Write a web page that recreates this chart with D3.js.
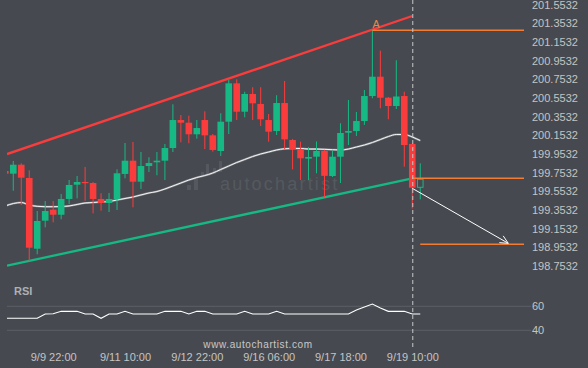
<!DOCTYPE html>
<html><head><meta charset="utf-8">
<script src="https://cdn.jsdelivr.net/npm/d3@7"></script>
<style>html,body{margin:0;padding:0;background:#464a50;overflow:hidden}</style>
</head><body><svg id="c" width="588" height="368"></svg>
<script>
// ---- data (H4 candles, index 0..52) ----
const opens  = [199.771,199.742,199.838,199.696,198.938,199.238,199.356,199.302,199.471,199.624,199.653,199.642,199.471,199.428,199.468,199.739,199.881,199.656,199.824,199.864,199.881,200.017,200.317,200.288,200.164,200.317,200.153,199.985,200.299,200.710,200.406,200.596,200.489,200.317,200.199,200.499,200.103,200.003,199.903,199.924,199.985,199.717,199.924,200.181,200.199,200.306,200.574,200.781,200.556,200.467,200.574,200.060,199.596];
const highs  = [199.781,199.878,199.853,199.778,199.342,199.449,199.449,199.524,199.674,199.717,199.814,199.653,199.532,199.535,199.789,200.071,200.082,199.974,199.918,199.974,200.060,200.485,200.371,200.363,200.317,200.410,200.167,200.389,200.746,200.753,200.620,200.668,200.668,200.381,200.582,200.735,200.114,200.085,200.028,200.087,199.996,199.990,200.282,200.531,200.403,200.639,201.282,201.060,200.564,200.957,200.620,200.065,199.853];
const lows   = [199.728,199.560,199.406,198.806,198.878,199.167,199.221,199.253,199.417,199.478,199.452,199.317,199.345,199.331,199.353,199.692,199.382,199.578,199.760,199.725,199.674,199.974,200.078,200.068,200.117,200.006,199.978,199.931,200.167,200.317,200.346,200.317,200.253,200.085,200.156,200.006,199.789,199.674,199.674,199.746,199.492,199.706,199.642,200.049,200.146,200.264,200.550,200.443,200.325,200.435,199.817,199.369,199.467];
const closes = [199.742,199.838,199.699,198.949,199.235,199.342,199.302,199.471,199.621,199.653,199.642,199.471,199.428,199.471,199.746,199.881,199.656,199.824,199.856,199.881,200.017,200.317,200.288,200.164,200.231,200.153,199.996,200.299,200.710,200.406,200.596,200.496,200.325,200.192,200.499,200.110,200.003,199.907,199.921,199.985,199.719,199.924,200.178,200.199,200.306,200.574,200.781,200.556,200.467,200.569,200.049,199.592,199.682];
const maValues = [199.396,199.422,199.433,199.406,199.392,199.388,199.388,199.390,199.396,199.412,199.428,199.433,199.439,199.444,199.460,199.476,199.492,199.514,199.535,199.551,199.578,199.610,199.642,199.674,199.701,199.722,199.749,199.787,199.824,199.862,199.894,199.926,199.953,199.974,199.996,200.009,200.012,200.012,200.006,200.006,200.003,199.999,199.996,200.006,200.028,200.049,200.076,200.108,200.140,200.162,200.162,200.135,200.097];
const rsiValues = [50,50,50,50,50,53.6,53.8,55.8,55.8,55.8,53.6,53.6,50,53.6,53.6,55.8,53.6,53.6,53.6,53.6,55.8,55.8,55.8,53.6,55.8,55.8,53.6,53.6,53.6,53.6,55.8,53.6,53.6,53.6,55.8,53.6,53.6,53.6,53.6,53.6,53.6,53.6,53.6,53.6,57,59.5,61.9,58.5,55.8,55.8,55.8,53.6,53.6];
const xTickIndex  = [6,15,24,33,42,51];
const xTickLabels = ["9/9 22:00","9/11 10:00","9/12 22:00","9/16 06:00","9/17 18:00","9/19 10:00"];
const priceTicks = [198.7532,198.9532,199.1532,199.3532,199.5532,199.7532,199.9532,200.1532,200.3532,200.5532,200.7532,200.9532,201.1532,201.3532,201.5532];
const rsiTicks = [40,60];
const resistanceLine = [[0.213,199.952],[51,201.4315]];
const supportLine    = [[0.213,198.756],[51,199.692]];
const levelA      = {from:46, to:65, price:201.278, label:"A"};
const levelMid    = {from:51, to:65, price:199.692};
const levelTarget = {from:52, to:65, price:198.985};
const arrowPts    = [[51,199.585],[63.03,198.996]];
const hollowIndex = 52;
const currentIndex = 51;

// ---- scales ----
const svg = d3.select("#c");
const x = d3.scaleLinear().domain([0,65]).range([5.3, 5.3+7.98*65]);
const y = d3.scaleLinear().domain([198.7532,201.5532]).range([265.96,4.64]);
const yr = d3.scaleLinear().domain([40,60]).range([330.3,306.3]);
const GREEN = "#16b983", RED = "#fb3c3c", ORANGE = "#f47b32";
const FONT = "'Liberation Sans', Arial, sans-serif";
const candles = opens.map((o,i)=>({i,o,h:highs[i],l:lows[i],c:closes[i]}));

svg.append("defs").append("clipPath").attr("id","plot")
  .append("rect").attr("x",7).attr("y",0).attr("width",518).attr("height",275);

// watermark
const wm = svg.append("g").attr("fill","#55595f");
[[187,185,4,5],[194,179,4,11],[201,172,3,5],[206,164,3,12],[213,168,3,6],[219,161,3,11]].forEach(r=>{
  wm.append("rect").attr("x",r[0]).attr("y",r[1]).attr("width",r[2]).attr("height",r[3]);
});
wm.append("text").attr("x",220).attr("y",190).attr("font-family",FONT).attr("font-size",18)
  .attr("letter-spacing",2.2).text("autochartist");

// y axis labels
const ya = d3.axisRight(y).tickValues(priceTicks).tickSize(0).tickPadding(0).tickFormat(d=>d.toFixed(4));
const yg = svg.append("g").attr("transform","translate(532,0)").call(ya);
yg.select(".domain").remove();
yg.selectAll("text").attr("fill","#c4c4c4").attr("font-size",11).attr("font-family",FONT);

const plot = svg.append("g").attr("clip-path","url(#plot)");

// trend lines
const ln = d3.line().x(d=>x(d[0])).y(d=>y(d[1]));
plot.append("path").attr("d",ln(resistanceLine)).attr("stroke",RED).attr("stroke-width",2.3).attr("fill","none");
plot.append("path").attr("d",ln(supportLine)).attr("stroke",GREEN).attr("stroke-width",2.3).attr("fill","none");

// MA
const maLine = d3.line().x((d,i)=>x(i)).y(d=>y(d)).curve(d3.curveMonotoneX);
plot.append("path").attr("d",maLine(maValues)).attr("stroke","#85888d").attr("stroke-width",2).attr("fill","none");
plot.append("path").attr("d",maLine(maValues)).attr("stroke","#f4f4f4").attr("stroke-width",1).attr("fill","none");

// candles
const bw = 6.6;
const cg = plot.append("g");
candles.forEach(d=>{
  const col = d.c >= d.o ? GREEN : RED;
  cg.append("line").attr("x1",x(d.i)).attr("x2",x(d.i)).attr("y1",y(d.h)).attr("y2",y(d.l))
    .attr("stroke",col).attr("stroke-width",1);
  const top = y(Math.max(d.o,d.c)), bot = y(Math.min(d.o,d.c));
  if (d.i === hollowIndex) {
    cg.append("rect").attr("x",x(d.i)-bw/2+0.5).attr("y",top).attr("width",bw-1).attr("height",Math.max(1,bot-top))
      .attr("fill","#464a50").attr("stroke",col).attr("stroke-width",1);
  } else {
    cg.append("rect").attr("x",x(d.i)-bw/2).attr("y",top).attr("width",bw).attr("height",Math.max(1.2,bot-top))
      .attr("fill",col);
  }
});

// horizontal levels
[levelA, levelMid, levelTarget].forEach(L=>{
  svg.append("line").attr("x1",x(L.from)).attr("x2",x(L.to)).attr("y1",y(L.price)).attr("y2",y(L.price))
    .attr("stroke",ORANGE).attr("stroke-width",1.5);
});
svg.append("text").attr("x",x(levelA.from)).attr("y",y(levelA.price)-2).attr("fill","#e38a4a")
  .attr("font-size",11).attr("font-family",FONT).text(levelA.label);

// arrow
const [p0,p1] = arrowPts.map(p=>[x(p[0]),y(p[1])]);
const ang = Math.atan2(p1[1]-p0[1],p1[0]-p0[0]);
const hl = 9, ha = 0.45;
svg.append("path").attr("d",`M${p0[0]},${p0[1]}L${p1[0]},${p1[1]}`).attr("stroke","#ffffff").attr("stroke-width",1).attr("fill","none");
svg.append("path").attr("d",`M${p1[0]-hl*Math.cos(ang-ha)},${p1[1]-hl*Math.sin(ang-ha)}L${p1[0]},${p1[1]}L${p1[0]-hl*Math.cos(ang+ha)},${p1[1]-hl*Math.sin(ang+ha)}`)
  .attr("stroke","#ffffff").attr("stroke-width",1).attr("fill","none");

// RSI panel
svg.selectAll(".rg").data(rsiTicks).enter().append("line")
  .attr("x1",7).attr("x2",531).attr("y1",d=>yr(d)).attr("y2",d=>yr(d)).attr("stroke","#5c6066").attr("stroke-width",1);
const ra = d3.axisRight(yr).tickValues(rsiTicks).tickSize(0).tickPadding(0);
const rg = svg.append("g").attr("transform","translate(532,0)").call(ra);
rg.select(".domain").remove();
rg.selectAll("text").attr("fill","#c4c4c4").attr("font-size",11).attr("font-family",FONT);
svg.append("text").attr("x",14).attr("y",295).attr("fill","#aeb0b4").attr("font-size",11)
  .attr("font-weight","bold").attr("font-family",FONT).text("RSI");
const rLine = d3.line().x((d,i)=>Math.max(7,x(i))).y(d=>yr(d));
svg.append("path").attr("d",rLine(rsiValues)).attr("stroke","#ffffff").attr("stroke-width",1.1).attr("fill","none");

// current vertical dashed line
svg.append("line").attr("x1",x(currentIndex)+0.5).attr("x2",x(currentIndex)+0.5).attr("y1",0).attr("y2",350)
  .attr("stroke","#c8c8c8").attr("stroke-width",1).attr("stroke-dasharray","4,3");

// x axis labels
const xa = d3.axisBottom(x).tickValues(xTickIndex).tickSize(0).tickPadding(0)
  .tickFormat((d,k)=>xTickLabels[k]);
const xg = svg.append("g").attr("transform","translate(0,353)").call(xa);
xg.select(".domain").remove();
xg.selectAll("text").attr("fill","#c4c4c4").attr("font-size",11).attr("font-family",FONT);

// site watermark
svg.append("text").attr("x",258).attr("y",347.5).attr("text-anchor","middle").attr("fill","#c8c8c8")
  .attr("font-size",10).attr("letter-spacing",0.6).attr("font-family",FONT).text("www.autochartist.com");
</script></body></html>
